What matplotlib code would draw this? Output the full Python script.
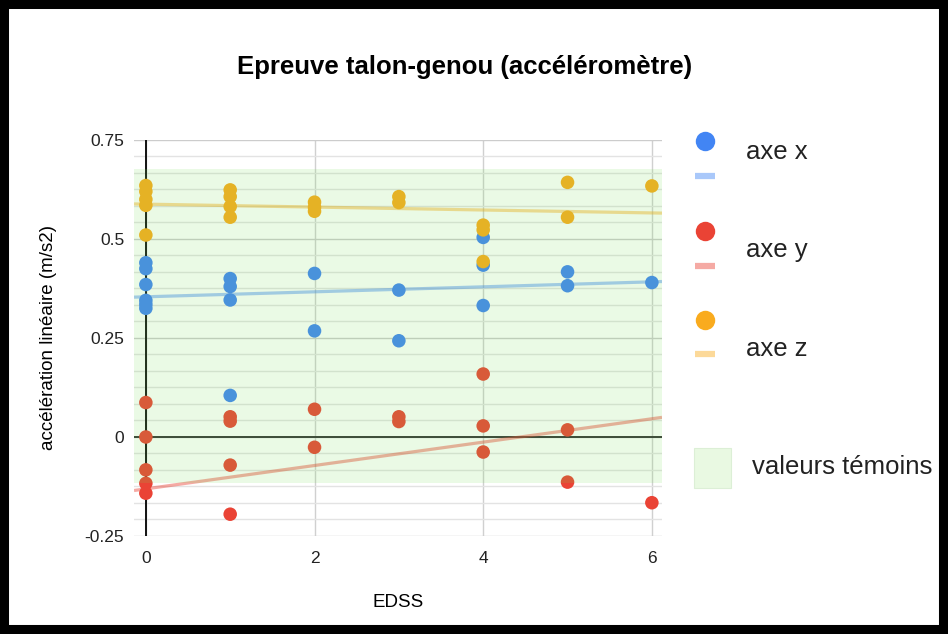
import numpy as np
import matplotlib
matplotlib.use("Agg")
import matplotlib.pyplot as plt
import matplotlib.ticker as ticker
from matplotlib.lines import Line2D
from matplotlib.patches import Rectangle

plt.rcParams["font.family"] = ["Liberation Sans", "DejaVu Sans"]

# ── data ────────────────────────────────────────────────────────────────────
blue_x = [0, 0, 0, 0, 0, 0, 1, 1, 1, 1, 2, 2, 3, 3, 4, 4, 4, 5, 5, 6]
blue_y = [0.44, 0.425, 0.385, 0.345, 0.335, 0.325,
          0.40, 0.38, 0.346, 0.105,
          0.413, 0.268,
          0.371, 0.243,
          0.504, 0.434, 0.332,
          0.417, 0.382,
          0.390]

red_x = [0, 0, 0, 0, 0, 1, 1, 1, 1, 2, 2, 3, 3, 4, 4, 4, 5, 5, 6]
red_y = [0.087, 0.0, -0.083, -0.117, -0.142,
         0.051, 0.040, -0.071, -0.195,
         0.070, -0.026,
         0.051, 0.039,
         0.159, 0.028, -0.038,
         0.018, -0.114,
         -0.166]

yellow_x = [0, 0, 0, 0, 0, 1, 1, 1, 1, 2, 2, 2, 3, 3, 4, 4, 4, 5, 5, 6]
yellow_y = [0.635, 0.62, 0.60, 0.585, 0.51,
            0.624, 0.607, 0.582, 0.555,
            0.593, 0.58, 0.57,
            0.607, 0.592,
            0.535, 0.523, 0.443,
            0.643, 0.555,
            0.634]

# linear trendlines as shown on the chart: intercept, slope
trend_intercepts = [0.354, -0.131, 0.588]
trend_slopes = [0.0063, 0.0295, -0.0037]

# "valeurs témoins" band
band_low, band_high = -0.116, 0.677

series_names = ["axe x", "axe y", "axe z"]
series_colors = ["#4285f4", "#ea4335", "#f9ab1e"]

x_ticks = [0, 2, 4, 6]
y_ticks = [-0.25, 0, 0.25, 0.5, 0.75]
y_ticklabels = ["-0.25", "0", "0.25", "0.5", "0.75"]

# ── figure ───────────────────────────────────────────────────────────────────
fig = plt.figure(figsize=(9.48, 6.34), dpi=100)
ax = fig.add_axes([0.1414, 0.1546, 0.5569, 0.6246])

xlim = (-0.14, 6.12)
ax.set_xlim(*xlim)
ax.set_ylim(-0.25, 0.75)

for s in ax.spines.values():
    s.set_visible(False)

ax.set_xticks(x_ticks)
ax.set_xticklabels([str(t) for t in x_ticks])
ax.set_yticks(y_ticks)
ax.set_yticklabels(y_ticklabels)
ax.yaxis.set_minor_locator(ticker.MultipleLocator(0.25 / 6))
ax.tick_params(which="both", length=0, labelsize=12.5, colors="#222222")
ax.tick_params(axis="x", pad=11)
ax.tick_params(axis="y", pad=7)

ax.grid(True, which="major", axis="y", color="#cccccc", lw=1.0, zorder=0)
ax.grid(True, which="minor", axis="y", color="#e3e3e3", lw=1.0, zorder=0)
ax.grid(True, which="major", axis="x", color="#d0d0d0", lw=1.0, zorder=0)
ax.set_axisbelow(True)

ax.axhline(0, color="#333333", lw=1.4, zorder=1)
ax.axvline(0, color="#111111", lw=1.4, zorder=1)

# trendlines
xs = np.array(xlim)
for b, m, c in zip(trend_intercepts, trend_slopes, series_colors):
    ax.plot(xs, b + m * xs, color=c, alpha=0.45, lw=2.3,
            solid_capstyle="butt", zorder=2)

# points
for xv, yv, c in [(blue_x, blue_y, series_colors[0]),
                  (red_x, red_y, series_colors[1]),
                  (yellow_x, yellow_y, series_colors[2])]:
    ax.scatter(xv, yv, s=95, color=c, edgecolors="none", zorder=3)

# green band drawn on top, semi transparent
ax.axhspan(band_low, band_high, color="#73de52", alpha=0.15, lw=0, zorder=4)

ax.set_xlabel("EDSS", fontsize=13.5, labelpad=20)
ax.set_ylabel("accélération linéaire (m/s2)", fontsize=13.5, labelpad=20)

fig.text(0.49, 1 - 67 / 634, "Epreuve talon-genou (accéléromètre)",
         ha="center", va="center", fontsize=18.5, fontweight="bold")

# ── legend, drawn by hand ────────────────────────────────────────────────────
def fx(px):
    return px / 948


def fy(py):
    return 1 - py / 634


leg_rows = [(141, 176, 152), (231, 266, 250), (320, 354, 349)]
for (dot_y, dash_y, text_y), name, c in zip(leg_rows, series_names, series_colors):
    fig.add_artist(Line2D([fx(705)], [fy(dot_y)], marker="o", ms=14,
                          color=c, mec="none", transform=fig.transFigure))
    fig.add_artist(Line2D([fx(695), fx(715)], [fy(dash_y), fy(dash_y)],
                          color=c, alpha=0.45, lw=4.5, solid_capstyle="butt",
                          transform=fig.transFigure))
    fig.text(fx(746), fy(text_y), name, fontsize=18.5, va="center",
             color="#222222")

fig.add_artist(Rectangle((fx(694), fy(488)), 37 / 948, 40 / 634,
                         transform=fig.transFigure, facecolor="#e9f9e2",
                         edgecolor="#dcefd6", lw=0.8))
fig.text(fx(752), fy(467), "valeurs témoins", fontsize=18.5, va="center",
         color="#222222")

# black frame round the picture
fig.add_artist(Rectangle((0, 0), 1, 1, transform=fig.transFigure,
                         fill=False, edgecolor="black", lw=13))

fig.savefig("out.png", dpi=100)
